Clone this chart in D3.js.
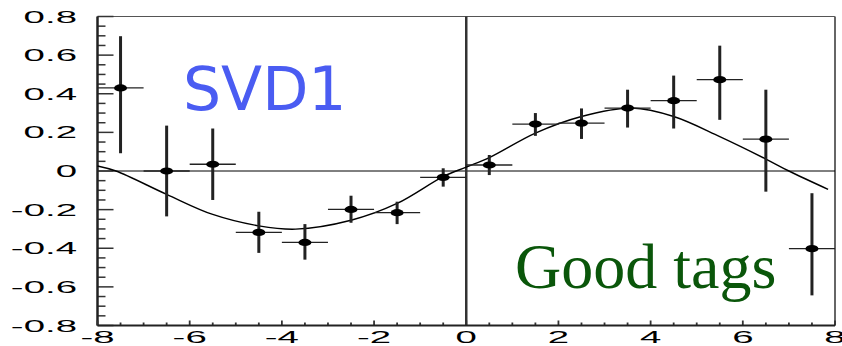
<!DOCTYPE html>
<html>
<head>
<meta charset="utf-8">
<script src="https://cdn.jsdelivr.net/npm/d3@7/dist/d3.min.js"></script>
<style>
  html, body { margin: 0; padding: 0; background: #fff; }
  svg { display: block; }
</style>
</head>
<body>
<svg id="chart" width="842" height="346"></svg>
<script>
// Δt bin centres and measured asymmetry per bin
const dtCenters = [-7.5, -6.5, -5.5, -4.5, -3.5, -2.5, -1.5, -0.5, 0.5, 1.5, 2.5, 3.5, 4.5, 5.5, 6.5, 7.5];
const asym      = [0.43, 0.0, 0.035, -0.318, -0.37, -0.199, -0.216, -0.033, 0.031, 0.243, 0.248, 0.326, 0.364, 0.473, 0.165, -0.402];
const errHi     = [0.268, 0.235, 0.185, 0.107, 0.095, 0.071, 0.057, 0.047, 0.052, 0.057, 0.076, 0.095, 0.13, 0.176, 0.256, 0.287];
const errLo     = [0.338, 0.235, 0.185, 0.106, 0.089, 0.069, 0.059, 0.048, 0.052, 0.061, 0.082, 0.101, 0.144, 0.208, 0.272, 0.242];
const binHalf   = 0.5;

// fitted curve, sampled along Δt
const fitX = [-8, -7.6, -6.5, -5.5, -4.5, -3.7, -2.5, -1.5, -0.5, 0, 0.5, 1.5, 2.5, 3.6, 4.5, 5.5, 6.5, 7.0, 7.85];
const fitY = [0.026, 0.0, -0.121, -0.225, -0.284, -0.301, -0.255, -0.168, -0.029, 0.02, 0.069, 0.196, 0.282, 0.326, 0.282, 0.178, 0.062, 0.0, -0.095];

// axis tick labels
const xTickValues = [-8, -6, -4, -2, 0, 2, 4, 6, 8];
const yTickValues = [-0.8, -0.6, -0.4, -0.2, 0, 0.2, 0.4, 0.6, 0.8];

const svg = d3.select("#chart");
const x = d3.scaleLinear().domain([-8, 8]).range([97.5, 835]);
const y = d3.scaleLinear().domain([-0.8, 0.8]).range([325.5, 16.5]);

const labelFont = "'Liberation Sans', Arial, sans-serif";
const stretch = 2.4;

// frame: top and right borders
svg.append("line").attr("x1", x(-8)).attr("x2", x(8)).attr("y1", y(0.8)).attr("y2", y(0.8))
  .attr("stroke", "#555").attr("stroke-width", 1.2);
svg.append("line").attr("x1", x(8)).attr("x2", x(8)).attr("y1", y(0.8)).attr("y2", y(-0.8))
  .attr("stroke", "#666").attr("stroke-width", 2);

// zero reference lines
svg.append("line").attr("x1", x(-8)).attr("x2", x(8)).attr("y1", y(0)).attr("y2", y(0))
  .attr("stroke", "#000").attr("stroke-width", 1);
svg.append("line").attr("x1", x(0)).attr("x2", x(0)).attr("y1", y(0.8)).attr("y2", y(-0.8))
  .attr("stroke", "#333").attr("stroke-width", 2.5);

// left axis: major ticks every 0.2, minor every 0.05, pointing inward
const yMinor = d3.range(-0.8, 0.8001, 0.05).map(v => +v.toFixed(2));
const yAxis = svg.append("g").attr("transform", `translate(${x(-8)},0)`);
yAxis.selectAll("line.tick").data(yMinor).join("line")
  .attr("class", "tick")
  .attr("x1", 0)
  .attr("x2", d => yTickValues.some(t => Math.abs(t - d) < 1e-6) ? 16 : 8)
  .attr("y1", d => y(d)).attr("y2", d => y(d))
  .attr("stroke", "#333").attr("stroke-width", 1.5);
yAxis.append("line").attr("x1", 0).attr("x2", 0).attr("y1", y(0.8)).attr("y2", y(-0.8))
  .attr("stroke", "#222").attr("stroke-width", 2.5);

// bottom axis: major ticks every 2, minor every 0.5, pointing up
const xMinor = d3.range(-8, 8.001, 0.5);
const xAxis = svg.append("g").attr("transform", `translate(0,${y(-0.8)})`);
xAxis.selectAll("line.tick").data(xMinor).join("line")
  .attr("class", "tick")
  .attr("x1", d => x(d)).attr("x2", d => x(d))
  .attr("y1", 0)
  .attr("y2", d => xTickValues.includes(d) ? -5 : -3)
  .attr("stroke", "#333").attr("stroke-width", 1.8);
xAxis.append("line").attr("x1", x(-8)).attr("x2", x(8)).attr("y1", 0).attr("y2", 0)
  .attr("stroke", "#222").attr("stroke-width", 2);

// tick labels (wide Helvetica-style digits)
svg.append("g").selectAll("text").data(yTickValues).join("text")
  .attr("transform", d => `translate(77,${y(d) + 6}) scale(${stretch},1)`)
  .attr("text-anchor", "end")
  .attr("font-family", labelFont).attr("font-size", 16)
  .attr("fill", "#000")
  .text(d => d === 0 ? "0" : d.toFixed(1));

svg.append("g").selectAll("text").data(xTickValues).join("text")
  .attr("transform", d => `translate(${x(d)},342.5) scale(${stretch},1)`)
  .attr("text-anchor", "middle")
  .attr("font-family", labelFont).attr("font-size", 16)
  .attr("fill", "#000")
  .text(d => String(d));

// fit curve
const fitLine = d3.line()
  .x(d => x(d[0])).y(d => y(d[1]))
  .curve(d3.curveCatmullRom.alpha(0.5));
svg.append("path")
  .datum(fitX.map((v, i) => [v, fitY[i]]))
  .attr("d", fitLine)
  .attr("fill", "none").attr("stroke", "#000").attr("stroke-width", 1.4);

// data points with error bars
const pts = dtCenters.map((c, i) => ({ c, v: asym[i], hi: errHi[i], lo: errLo[i] }));
const pg = svg.append("g");
pg.selectAll("line.xerr").data(pts).join("line")
  .attr("class", "xerr")
  .attr("x1", d => x(d.c - binHalf)).attr("x2", d => x(d.c + binHalf))
  .attr("y1", d => y(d.v)).attr("y2", d => y(d.v))
  .attr("stroke", "#222").attr("stroke-width", 1.3);
pg.selectAll("line.yerr").data(pts).join("line")
  .attr("class", "yerr")
  .attr("x1", d => x(d.c)).attr("x2", d => x(d.c))
  .attr("y1", d => y(d.v + d.hi)).attr("y2", d => y(d.v - d.lo))
  .attr("stroke", "#222").attr("stroke-width", 3);
pg.selectAll("ellipse").data(pts).join("ellipse")
  .attr("cx", d => x(d.c)).attr("cy", d => y(d.v))
  .attr("rx", 6.5).attr("ry", 3.6)
  .attr("fill", "#000");

// panel labels
svg.append("text")
  .attr("x", 183).attr("y", 110)
  .attr("font-family", "'DejaVu Sans', sans-serif").attr("font-size", 60)
  .attr("fill", "#4a5cf2")
  .text("SVD1");

svg.append("text")
  .attr("x", 515).attr("y", 288)
  .attr("font-family", "'Liberation Serif', 'Times New Roman', serif").attr("font-size", 64)
  .attr("fill", "#0a560a")
  .text("Good tags");
</script>
</body>
</html>
